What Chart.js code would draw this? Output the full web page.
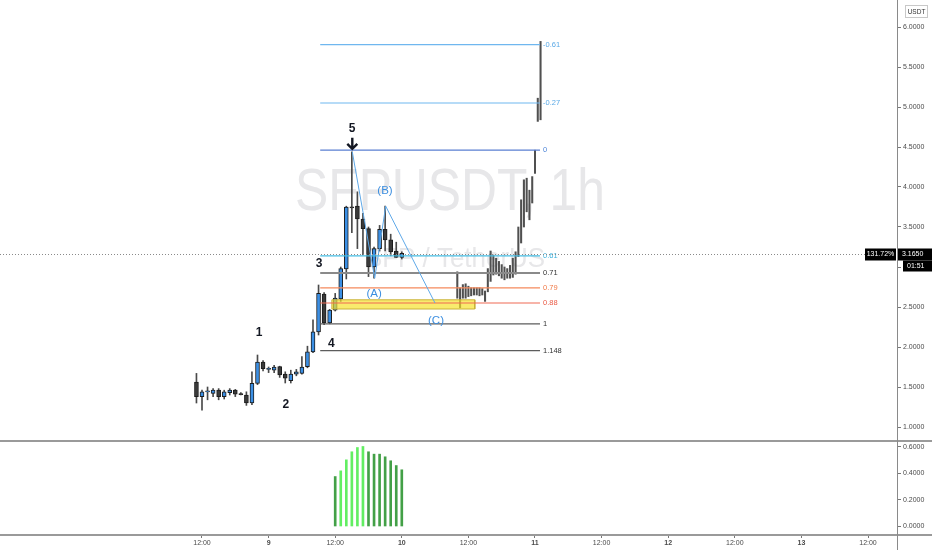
<!DOCTYPE html>
<html>
<head>
<meta charset="utf-8">
<script src="https://cdn.jsdelivr.net/npm/chart.js@4.4.1/dist/chart.umd.min.js"></script>
<style>
  html, body { margin: 0; padding: 0; background: #fff; }
  #wrap { position: relative; width: 932px; height: 550px; overflow: hidden; }
  #price { position: absolute; left: 0; top: 0; }
  #osc { position: absolute; left: 0; top: 440px; }
</style>
</head>
<body>
<div id="wrap">
  <canvas id="price" width="932" height="440"></canvas>
  <canvas id="osc" width="932" height="110"></canvas>
</div>
<script>
// hourly candles, first one is the 8th 11:00 (hours counted from the 8th 00:00)
const candleStartHour = 11;
const opens  = [1.56, 1.38, 1.44, 1.42, 1.46, 1.38, 1.43, 1.46, 1.41, 1.40,
                1.30, 1.545, 1.81, 1.72, 1.71, 1.755, 1.66, 1.58, 1.66, 1.67,
                1.755, 1.94, 2.19, 2.66, 2.30, 2.46, 2.60, 2.975, 3.75, 3.76,
                3.60, 3.48, 3.00, 3.23, 3.47, 3.34, 3.20, 3.12];
const highs  = [1.67, 1.46, 1.50, 1.48, 1.48, 1.46, 1.48, 1.47, 1.43, 1.44,
                1.69, 1.90, 1.83, 1.75, 1.77, 1.76, 1.69, 1.71, 1.72, 1.88,
                2.01, 2.34, 2.775, 2.68, 2.47, 2.67, 3.00, 3.76, 4.44, 3.94,
                3.67, 3.50, 3.25, 3.52, 3.76, 3.41, 3.31, 3.19];
const lows   = [1.30, 1.21, 1.34, 1.38, 1.34, 1.35, 1.40, 1.38, 1.40, 1.27,
                1.28, 1.53, 1.70, 1.68, 1.68, 1.62, 1.55, 1.55, 1.64, 1.66,
                1.74, 1.93, 2.15, 2.28, 2.29, 2.45, 2.57, 2.85, 3.43, 3.23,
                3.15, 2.88, 2.86, 3.20, 3.20, 3.14, 3.12, 3.10];
const closes = [1.38, 1.44, 1.445, 1.46, 1.38, 1.44, 1.46, 1.41, 1.405, 1.30,
                1.545, 1.81, 1.73, 1.725, 1.75, 1.65, 1.61, 1.66, 1.69, 1.75,
                1.94, 2.19, 2.67, 2.30, 2.46, 2.61, 2.98, 3.75, 3.74, 3.60,
                3.48, 3.00, 3.23, 3.47, 3.34, 3.19, 3.12, 3.17];

// projected bars (grey), half-hour spacing from the 10th 10:00
const ghostStartHour = 58;
const ghostStep = 0.5;
const ghostHighs = [2.94, 2.74, 2.78, 2.79, 2.76, 2.74, 2.74, 2.74, 2.74, 2.73,
                    2.70, 2.98, 3.20, 3.15, 3.11, 3.07, 3.03, 3.00, 2.98, 3.02,
                    3.11, 3.19, 3.50, 3.84, 4.09, 4.11, 3.96, 4.13, 4.46, 5.11, 5.82];
const ghostLows  = [2.61, 2.49, 2.61, 2.61, 2.63, 2.64, 2.65, 2.65, 2.64, 2.65,
                    2.57, 2.69, 2.82, 2.90, 2.91, 2.89, 2.86, 2.84, 2.86, 2.86,
                    2.87, 2.91, 3.13, 3.30, 3.50, 3.69, 3.59, 3.80, 4.17, 4.82, 4.84];

// lower pane histogram
const oscHours  = [36, 37, 38, 39, 40, 41, 42, 43, 44, 45, 46, 47, 48];
const oscValues = [0.377, 0.420, 0.503, 0.564, 0.596, 0.604, 0.564, 0.546, 0.546, 0.526, 0.496, 0.460, 0.428];

// fib retracement drawing
const fibLevels = ['-0.61', '-0.27', '0', '0.61', '0.71', '0.79', '0.88', '1', '1.148'];
const fibPrices = [5.78, 5.05, 4.46, 3.14, 2.925, 2.74, 2.55, 2.29, 1.955];
const fibColors = ['#6fb7ef', '#6fb7ef', '#5a7fd2', '#45bde3', '#8a8a8a', '#f58a5c', '#ef6a55', '#5d5d5d', '#5d5d5d'];
const fibLabelColors = ['#5aa9e6', '#5aa9e6', '#4f86d8', '#3fb3de', '#333333', '#f07a48', '#ea5a45', '#333333', '#333333'];
const fibStartHour = 33.3;
const fibEndHour = 72.9;

// ABC correction
const zigzagHours  = [39.08, 43.12, 45.1, 53.98];
const zigzagPrices = [4.44, 2.86, 3.76, 2.55];

// yellow zone
const zoneHours  = [35.4, 61.15];
const zonePrices = [2.475, 2.59];

const lastPrice = 3.165;

const waveLabels = [
  { text: '1', h: 22.27, p: 2.175, kind: 'wave' },
  { text: '2', h: 27.1, p: 1.275, kind: 'wave' },
  { text: '3', h: 33.08, p: 3.04, kind: 'wave' },
  { text: '4', h: 35.3, p: 2.04, kind: 'wave' },
  { text: '5', h: 39.03, p: 4.725, kind: 'wave' },
  { text: '(A)', h: 43.0, p: 2.66, kind: 'abc' },
  { text: '(B)', h: 44.97, p: 3.95, kind: 'abc' },
  { text: '(C)', h: 54.16, p: 2.325, kind: 'abc' }
];

const timeTickHours  = [12, 24, 36, 48, 60, 72, 84, 96, 108, 120, 132];
const timeTickLabels = ['12:00', '9', '12:00', '10', '12:00', '11', '12:00', '12', '12:00', '13', '12:00'];
const priceTicks = [1.0, 1.5, 2.0, 2.5, 3.0, 3.5, 4.0, 4.5, 5.0, 5.5, 6.0];
const oscTicks = [0, 0.2, 0.4, 0.6];

const X_MIN = -24.396;
const X_MAX = 137.225;
const FONT = '"Liberation Sans", Arial, sans-serif';

// keep tick labels from pushing the plot area in
const noPad = s => {
  s.paddingTop = 0;
  s.paddingBottom = 0;
  s.paddingLeft = 0;
  s.paddingRight = 0;
};

const candles = opens.map((o, i) => ({
  h: candleStartHour + i, o: o, hi: highs[i], lo: lows[i], c: closes[i]
}));

const wickData = candles.map(k => ({ x: k.h, y: [k.lo, k.hi] }));
const bodyData = candles.map(k => ({ x: k.h, y: [Math.min(k.o, k.c), Math.max(k.o, k.c)] }));
const bodyColors = candles.map(k => k.c >= k.o ? '#3b8fe4' : '#3a3a3a');
const ghostData = ghostHighs.map((hi, i) => ({ x: ghostStartHour + ghostStep * i, y: [ghostLows[i], hi] }));

const fibDatasets = fibPrices.map((p, i) => ({
  type: 'line',
  data: [{ x: fibStartHour, y: p }, { x: fibEndHour, y: p }],
  borderColor: fibColors[i],
  borderWidth: i === 4 ? 2 : 1.2,
  pointRadius: 0,
  order: 2
}));

const overlay = {
  id: 'overlay',
  beforeDatasetsDraw(chart) {
    const {ctx, chartArea} = chart;
    ctx.save();
    ctx.beginPath();
    ctx.rect(chartArea.left, chartArea.top, chartArea.width, chartArea.height);
    ctx.clip();
    ctx.fillStyle = '#e7e7e9';
    ctx.textAlign = 'center';
    ctx.textBaseline = 'alphabetic';
    ctx.font = '60px ' + FONT;
    ctx.fillText('SFPUSDT, 1h', 450, 210, 310);
    ctx.font = '28px ' + FONT;
    ctx.fillText('SFP / TetherUS', 455, 267, 180);
    ctx.restore();
  },
  afterDatasetsDraw(chart) {
    const {ctx, chartArea} = chart;
    const xs = chart.scales.x, ys = chart.scales.y;
    ctx.save();

    // fib level labels
    ctx.font = '7.5px ' + FONT;
    ctx.textAlign = 'left';
    ctx.textBaseline = 'middle';
    fibPrices.forEach((p, i) => {
      ctx.fillStyle = fibLabelColors[i];
      ctx.fillText(fibLevels[i], xs.getPixelForValue(fibEndHour) + 3, ys.getPixelForValue(p));
    });

    // wave labels
    ctx.textAlign = 'center';
    waveLabels.forEach(w => {
      if (w.kind === 'wave') {
        ctx.font = 'bold 12px ' + FONT;
        ctx.fillStyle = '#131722';
      } else {
        ctx.font = '11.5px ' + FONT;
        ctx.fillStyle = '#3d8fe0';
      }
      ctx.fillText(w.text, xs.getPixelForValue(w.h), ys.getPixelForValue(w.p));
    });

    // arrow under the 5
    const ax = xs.getPixelForValue(zigzagHours[0]);
    const ay = ys.getPixelForValue(zigzagPrices[0]);
    ctx.strokeStyle = '#131722';
    ctx.lineWidth = 2.4;
    ctx.beginPath();
    ctx.moveTo(ax, ay - 14);
    ctx.lineTo(ax, ay - 3);
    ctx.moveTo(ax - 5, ay - 8);
    ctx.lineTo(ax, ay - 3);
    ctx.lineTo(ax + 5, ay - 8);
    ctx.stroke();

    // last price line
    const py = Math.round(ys.getPixelForValue(lastPrice)) + 0.5;
    ctx.strokeStyle = '#8a8a8a';
    ctx.lineWidth = 1;
    ctx.setLineDash([1, 2]);
    ctx.beginPath();
    ctx.moveTo(chartArea.left, py);
    ctx.lineTo(chartArea.right, py);
    ctx.stroke();
    ctx.setLineDash([]);

    // price badges
    ctx.fillStyle = '#000';
    ctx.fillRect(chartArea.right - 32, py - 6, 31, 12);
    ctx.fillRect(chartArea.right + 1, py - 6, 35, 12);
    ctx.fillRect(chartArea.right + 6, py + 6, 30, 11);
    ctx.fillStyle = '#fff';
    ctx.font = '7px ' + FONT;
    ctx.textAlign = 'center';
    ctx.fillText('131.72%', chartArea.right - 16.5, py);
    ctx.textAlign = 'left';
    ctx.fillText(lastPrice.toFixed(4), chartArea.right + 5, py);
    ctx.fillText('01:51', chartArea.right + 10, py + 11.5);

    // currency box
    ctx.strokeStyle = '#c8c8c8';
    ctx.lineWidth = 1;
    ctx.fillStyle = '#fff';
    ctx.fillRect(905.5, 5.5, 22, 12);
    ctx.strokeRect(905.5, 5.5, 22, 12);
    ctx.fillStyle = '#333';
    ctx.font = '6.5px ' + FONT;
    ctx.textAlign = 'center';
    ctx.fillText('USDT', 916.5, 11.8);
    ctx.restore();
  }
};

new Chart(document.getElementById('price'), {
  type: 'bar',
  data: {
    datasets: [
      { data: wickData, backgroundColor: '#4a4a4a', barThickness: 1, grouped: false, order: 6 },
      { data: bodyData, backgroundColor: bodyColors, borderColor: '#1c1c1c', borderWidth: 1,
        borderSkipped: false, barThickness: 4, minBarLength: 1, grouped: false, order: 5 },
      { data: ghostData, backgroundColor: '#505050', barThickness: 1.4, grouped: false, order: 4 },
      {
        type: 'line',
        data: [
          { x: zoneHours[0], y: zonePrices[1] }, { x: zoneHours[1], y: zonePrices[1] },
          { x: zoneHours[1], y: zonePrices[0] }, { x: zoneHours[0], y: zonePrices[0] },
          { x: zoneHours[0], y: zonePrices[1] }
        ],
        fill: 'shape',
        backgroundColor: 'rgba(246, 226, 40, 0.68)',
        borderColor: '#c9b23a',
        borderWidth: 1,
        pointRadius: 0,
        order: 3
      },
      ...fibDatasets,
      {
        type: 'line',
        data: zigzagHours.map((h, i) => ({ x: h, y: zigzagPrices[i] })),
        borderColor: '#5ea8e8',
        borderWidth: 1,
        pointRadius: 0,
        order: 1
      }
    ]
  },
  options: {
    responsive: false,
    animation: false,
    events: [],
    layout: { padding: 0 },
    plugins: { legend: { display: false }, tooltip: { enabled: false } },
    scales: {
      x: { type: 'linear', min: X_MIN, max: X_MAX, offset: false, display: false },
      y: {
        position: 'right',
        min: 0.8375,
        max: 6.3375,
        afterFit: s => { s.width = 35; noPad(s); },
        afterBuildTicks: s => { s.ticks = priceTicks.map(v => ({ value: v })); },
        ticks: {
          autoSkip: false,
          padding: 2,
          color: '#4a4a4a',
          font: { size: 7, family: FONT },
          callback: v => v.toFixed(4)
        },
        grid: { drawOnChartArea: false, tickLength: 4, tickColor: '#777' },
        border: { display: true, color: '#8a8a8a', width: 1 }
      }
    }
  },
  plugins: [overlay]
});

const paneFrame = {
  id: 'paneFrame',
  afterDraw(chart) {
    const {ctx, chartArea} = chart;
    ctx.save();
    ctx.fillStyle = '#9a9a9a';
    ctx.fillRect(0, 0, 932, 2);
    ctx.fillRect(0, chartArea.bottom - 1, 932, 2);
    ctx.fillStyle = '#8a8a8a';
    ctx.fillRect(chartArea.right, 0, 1, 110);
    ctx.restore();
  }
};

new Chart(document.getElementById('osc'), {
  type: 'bar',
  data: {
    datasets: [{
      data: oscHours.map((h, i) => ({ x: h, y: oscValues[i] })),
      backgroundColor: oscValues.map((v, i) => (i > 0 && v > oscValues[i - 1]) ? '#62ee62' : '#43a047'),
      barThickness: 2,
      grouped: false
    }]
  },
  options: {
    responsive: false,
    animation: false,
    events: [],
    layout: { padding: { top: 2 } },
    plugins: { legend: { display: false }, tooltip: { enabled: false } },
    scales: {
      x: {
        type: 'linear',
        min: X_MIN,
        max: X_MAX,
        offset: false,
        afterFit: s => { s.height = 15; noPad(s); },
        afterBuildTicks: s => { s.ticks = timeTickHours.map(v => ({ value: v })); },
        ticks: {
          autoSkip: false,
          maxRotation: 0,
          padding: 1,
          color: '#4a4a4a',
          font: c => ({ size: 7, family: FONT, weight: /^\d+$/.test(timeTickLabels[c.index]) ? 'bold' : 'normal' }),
          callback: (v, i) => timeTickLabels[i]
        },
        grid: { offset: false, drawOnChartArea: false, tickLength: 3, tickColor: '#777' },
        border: { display: false }
      },
      y: {
        position: 'right',
        min: -0.0642,
        max: 0.6377,
        afterFit: s => { s.width = 35; noPad(s); },
        afterBuildTicks: s => { s.ticks = oscTicks.map(v => ({ value: v })); },
        ticks: {
          autoSkip: false,
          padding: 2,
          color: '#4a4a4a',
          font: { size: 7, family: FONT },
          callback: v => v.toFixed(4)
        },
        grid: { drawOnChartArea: false, tickLength: 4, tickColor: '#777' },
        border: { display: false }
      }
    }
  },
  plugins: [paneFrame]
});
</script>
</body>
</html>
